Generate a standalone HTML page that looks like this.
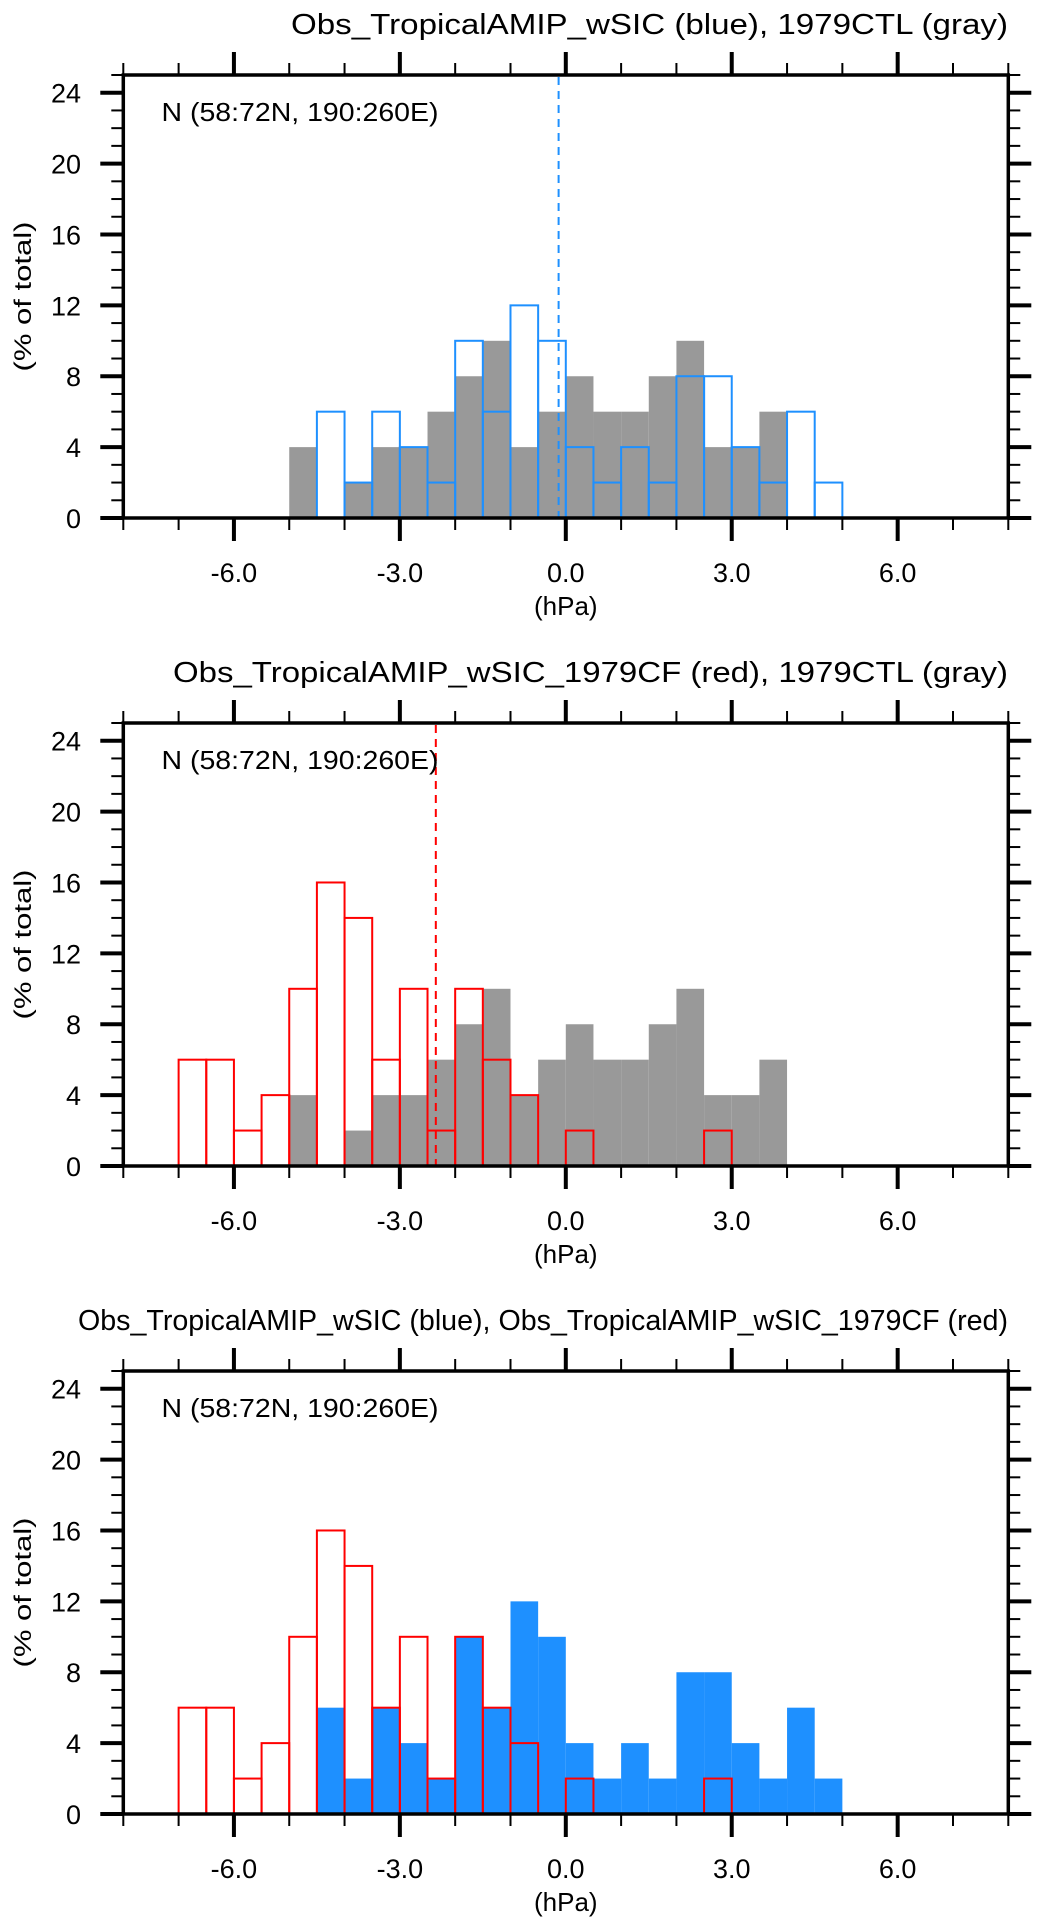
<!DOCTYPE html>
<html><head><meta charset="utf-8"><title>Histograms</title>
<style>html,body{margin:0;padding:0;background:#fff}svg{display:block}
text{font-family:"Liberation Sans",sans-serif;fill:#000}</style></head>
<body>
<svg id="chart" width="1044" height="1928" viewBox="0 0 1044 1928" xmlns="http://www.w3.org/2000/svg"></svg>
<script>
// Bins (left edges, hPa), width 0.5
const ctlBinStart = -5.0;
const ctlValues = [4,0,2,4,4,6,8,10,4,6,8,6,6,8,10,4,4,6];
const obsBinStart = -4.5;
const obsValues = [6,2,6,4,2,10,6,12,10,4,2,4,2,8,8,4,2,6,2];
const cfBinStart = -7.0;
const cfValues = [6,6,2,4,10,16,14,6,10,2,10,6,4,0,2,0,0,0,0,2];
const binWidth = 0.5;
const xTickMajor = [-6,-3,0,3,6];
const xTickLabels = ["-6.0","-3.0","0.0","3.0","6.0"];
const yTickMajor = [0,4,8,12,16,20,24];
const meanLines = [-0.13, -2.35];
const titles = ["Obs_TropicalAMIP_wSIC (blue), 1979CTL (gray)",
  "Obs_TropicalAMIP_wSIC_1979CF (red), 1979CTL (gray)",
  "Obs_TropicalAMIP_wSIC (blue), Obs_TropicalAMIP_wSIC_1979CF (red)"];

const NS="http://www.w3.org/2000/svg";
const svg=document.getElementById('chart');
const L=123.3,R=1008.3,H=443,XMIN=-8,XMAX=8,YMAX=25;
const GRAY="#999999",BLUE="#1E90FF",RED="#FF0000";
function el(tag,attrs,parent){const e=document.createElementNS(NS,tag);for(const k in attrs)e.setAttribute(k,attrs[k]);(parent||svg).appendChild(e);return e;}
function xs(v){return L+(v-XMIN)*(R-L)/(XMAX-XMIN);}

function panel(idx,top,titleStart,fillSet,fillStart,fillColor,outlineSet,outlineStart,outlineColor,meanX){
  const y0=top+H;
  const ys=v=>y0-v*H/YMAX;
  const g=el('g',{});
  
  
  const t=el('text',{x:titleStart,y:top-41,'font-size':29,textLength:1008-titleStart,lengthAdjust:'spacingAndGlyphs'},g);
  t.textContent=titles[idx];
  
  
  outlineSet.forEach((v,i)=>{ if(!v) return;
    const a=outlineStart+i*binWidth;
    const r=el('rect',{x:xs(a),y:ys(v),width:xs(a+binWidth)-xs(a),height:y0-ys(v),fill:'#fff'},g);
    
    
  });
  fillSet.forEach((v,i)=>{ if(!v) return;
    const a=fillStart+i*binWidth;
    const r=el('rect',{x:xs(a),y:ys(v),width:xs(a+binWidth)-xs(a),height:y0-ys(v),fill:fillColor},g);
    
    
  });
  outlineSet.forEach((v,i)=>{ if(!v) return;
    const a=outlineStart+i*binWidth;
    const r=el('rect',{x:xs(a),y:ys(v),width:xs(a+binWidth)-xs(a),height:y0-ys(v),fill:'none',stroke:outlineColor,'stroke-width':2},g);
    
    
  });
  if(meanX!==null){
    const d=el('line',{x1:xs(meanX),x2:xs(meanX),y1:top+2,y2:y0,stroke:outlineColor,'stroke-width':2,'stroke-dasharray':'8,6'},g);
    
    
  }
  const f=el('rect',{x:L,y:top,width:R-L,height:H,fill:'none',stroke:'#000','stroke-width':3.5},g);
  
  
  for(let v=XMIN;v<=XMAX;v++){
    const maj=xTickMajor.includes(v);const len=maj?23:12;const w=maj?4:2;
    el('line',{x1:xs(v),x2:xs(v),y1:y0,y2:y0+len,stroke:'#000','stroke-width':w},g);
    el('line',{x1:xs(v),x2:xs(v),y1:top,y2:top-len,stroke:'#000','stroke-width':w},g);
  }
  xTickMajor.forEach((v,i)=>{
    const tx=el('text',{x:xs(v),y:y0+64,'font-size':27,'text-anchor':'middle'},g);
    tx.textContent=xTickLabels[i];
    
    
  });
  for(let v=0;v<=YMAX;v++){
    const maj=yTickMajor.includes(v);const len=maj?23:12;const w=maj?4:2;
    el('line',{x1:L,x2:L-len,y1:ys(v),y2:ys(v),stroke:'#000','stroke-width':w},g);
    el('line',{x1:R,x2:R+len,y1:ys(v),y2:ys(v),stroke:'#000','stroke-width':w},g);
  }
  yTickMajor.forEach(v=>{
    const ty=el('text',{x:81,y:ys(v)+10,'font-size':27,'text-anchor':'end'},g);
    ty.textContent=String(v);
    
    
  });
  const xt=el('text',{x:xs(0),y:y0+97,'font-size':26,'text-anchor':'middle'},g);
  xt.textContent='(hPa)';
  
  
  const cy=top+H/2;
  const yt=el('text',{x:0,y:0,'font-size':24,'text-anchor':'middle',textLength:150,lengthAdjust:'spacingAndGlyphs',transform:`translate(31,${cy}) rotate(-90)`},g);
  yt.textContent='(% of total)';
  
  
  const rg=el('text',{x:161.5,y:top+46,'font-size':26,textLength:277,lengthAdjust:'spacingAndGlyphs'},g);
  rg.textContent='N (58:72N, 190:260E)';
  
  
}
panel(0,75,291,ctlValues,ctlBinStart,GRAY,obsValues,obsBinStart,BLUE,meanLines[0]);
panel(1,723,173,ctlValues,ctlBinStart,GRAY,cfValues,cfBinStart,RED,meanLines[1]);
panel(2,1371,78,obsValues,obsBinStart,BLUE,cfValues,cfBinStart,RED,null);
</script>
</body></html>
